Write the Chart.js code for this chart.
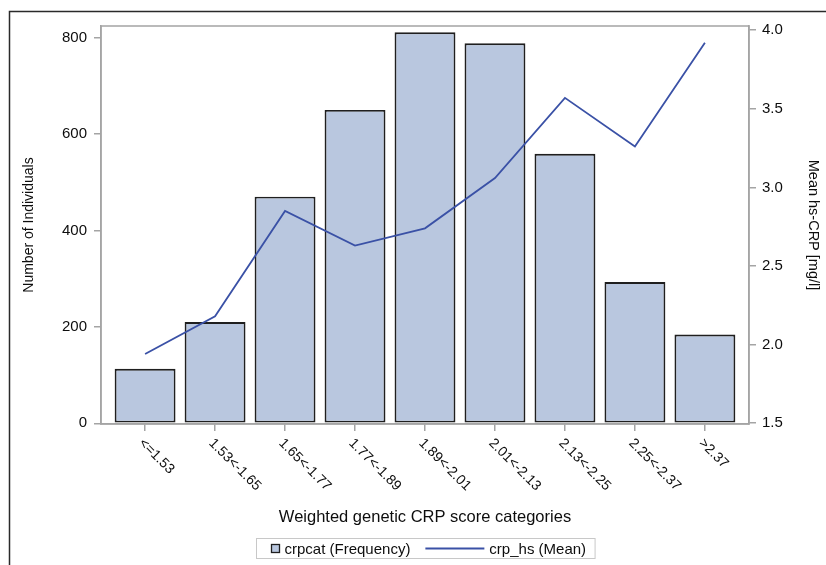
<!DOCTYPE html>
<html>
<head>
<meta charset="utf-8">
<title>Weighted genetic CRP score categories</title>
<script src="https://cdn.jsdelivr.net/npm/chart.js@4.4.0/dist/chart.umd.min.js"></script>
<style>
  html, body { margin: 0; padding: 0; background: #fff; }
  #wrap { width: 826px; height: 565px; }
</style>
</head>
<body>
<div id="wrap"><canvas id="crpChart" width="826" height="565"></canvas></div>
<script>
// data
const categories = ['<=1.53', '1.53<-1.65', '1.65<-1.77', '1.77<-1.89', '1.89<-2.01', '2.01<-2.13', '2.13<-2.25', '2.25<-2.37', '>2.37'];
const frequency = [113, 210, 470, 650, 811, 788, 559, 293, 184];
const meanCrp = [1.94, 2.18, 2.85, 2.63, 2.74, 3.06, 3.57, 3.26, 3.92];
const freqTicks = [0, 200, 400, 600, 800];
const crpTicks = [1.5, 2.0, 2.5, 3.0, 3.5, 4.0];

const FONT = "'Liberation Sans', Arial, sans-serif";
const frameGray = '#a4a4a4';
const textColor = '#0d0d0d';

// frames, rotated category labels and the boxed legend
const extras = {
  id: 'extras',
  beforeDraw(chart) {
    const ctx = chart.ctx;
    ctx.save();
    ctx.strokeStyle = '#2a2a2a';
    ctx.lineWidth = 1.5;
    ctx.beginPath();
    ctx.moveTo(9.5, 600);
    ctx.lineTo(9.5, 11.5);
    ctx.lineTo(826, 11.5);
    ctx.stroke();
    ctx.restore();
  },
  afterDraw(chart) {
    const ctx = chart.ctx;
    const area = chart.chartArea;
    const xScale = chart.scales.x;

    ctx.save();
    ctx.strokeStyle = frameGray;
    ctx.lineWidth = 1.5;
    ctx.strokeRect(area.left, area.top, area.right - area.left, area.bottom - area.top);

    // category labels, rotated 45 degrees clockwise
    ctx.fillStyle = textColor;
    ctx.font = '14px ' + FONT;
    ctx.textAlign = 'left';
    ctx.textBaseline = 'middle';
    categories.forEach((lab, i) => {
      const x = xScale.getPixelForValue(i);
      ctx.save();
      ctx.translate(x - 4, area.bottom + 17);
      ctx.rotate(Math.PI / 4);
      ctx.fillText(lab, 0, 0);
      ctx.restore();
    });

    // legend
    const ds = chart.data.datasets;
    ctx.font = '15px ' + FONT;
    const w1 = ctx.measureText(ds[0].label).width;
    const w2 = ctx.measureText(ds[1].label).width;
    const padL = 15, padR = 9, box = 8, gap = 5, itemGap = 15, lineLen = 59;
    const total = padL + box + gap + w1 + itemGap + lineLen + gap + w2 + padR;
    const cx = (area.left + area.right) / 2;
    let lx = Math.round(cx - total / 2) + 0.5;
    const ly = 538.5, lh = 20, mid = ly + lh / 2;

    ctx.strokeStyle = '#c8c8c8';
    ctx.lineWidth = 1;
    ctx.strokeRect(lx, ly, total, lh);

    let px = lx + padL;
    ctx.fillStyle = ds[0].backgroundColor;
    ctx.fillRect(px, mid - box / 2, box, box);
    ctx.strokeStyle = ds[0].borderColor;
    ctx.lineWidth = 1.3;
    ctx.strokeRect(px, mid - box / 2, box, box);
    px += box + gap;
    ctx.fillStyle = textColor;
    ctx.fillText(ds[0].label, px, mid + 1);
    px += w1 + itemGap;
    ctx.strokeStyle = ds[1].borderColor;
    ctx.lineWidth = ds[1].borderWidth;
    ctx.beginPath();
    ctx.moveTo(px, mid);
    ctx.lineTo(px + lineLen, mid);
    ctx.stroke();
    px += lineLen + gap;
    ctx.fillText(ds[1].label, px, mid + 1);
    ctx.restore();
  }
};

const ctx = document.getElementById('crpChart').getContext('2d');

new Chart(ctx, {
  type: 'bar',
  data: {
    datasets: [
      {
        type: 'bar',
        label: 'crpcat (Frequency)',
        data: frequency.map((v, i) => ({ x: i, y: v })),
        yAxisID: 'y',
        backgroundColor: '#b9c7df',
        borderColor: '#1f1f1f',
        borderWidth: 1.9,
        borderSkipped: false,
        categoryPercentage: 0.87,
        barPercentage: 1,
        order: 2
      },
      {
        type: 'line',
        label: 'crp_hs (Mean)',
        data: meanCrp.map((v, i) => ({ x: i, y: v })),
        yAxisID: 'y1',
        borderColor: '#3a51a6',
        borderWidth: 1.8,
        pointRadius: 0,
        tension: 0,
        order: 1
      }
    ]
  },
  options: {
    responsive: false,
    animation: false,
    events: [],
    layout: { padding: { top: 26, left: 0, right: 0, bottom: 0 } },
    plugins: {
      legend: { display: false },
      tooltip: { enabled: false }
    },
    scales: {
      x: {
        type: 'linear',
        min: -0.63,
        max: 8.63,
        offset: false,
        afterBuildTicks: s => { s.ticks = categories.map((c, i) => ({ value: i })); },
        afterFit: s => { s.height = 141; },
        ticks: { display: false },
        grid: { offset: false, drawOnChartArea: false, tickLength: 7, color: frameGray, lineWidth: 1.5 },
        border: { color: frameGray, width: 1.5 },
        title: {
          display: true,
          text: 'Weighted genetic CRP score categories',
          color: textColor,
          font: { family: FONT, size: 16.5 },
          padding: { top: 0, bottom: 38 }
        }
      },
      y: {
        position: 'left',
        min: -1.5,
        max: 824,
        afterBuildTicks: s => { s.ticks = freqTicks.map(v => ({ value: v })); },
        afterFit: s => { s.width = 101; },
        ticks: { color: textColor, font: { family: FONT, size: 15 }, padding: 7 },
        grid: { drawOnChartArea: false, tickLength: 7, color: frameGray, lineWidth: 1.5 },
        border: { color: frameGray, width: 1.5 },
        title: {
          display: true,
          text: 'Number of Individuals',
          color: textColor,
          font: { family: FONT, size: 14 },
          padding: { top: 21, bottom: 0 }
        }
      },
      y1: {
        position: 'right',
        min: 1.495,
        max: 4.027,
        afterBuildTicks: s => { s.ticks = crpTicks.map(v => ({ value: v })); },
        afterFit: s => { s.width = 77; },
        ticks: {
          color: textColor,
          font: { family: FONT, size: 15 },
          padding: 6,
          callback: v => v.toFixed(1)
        },
        grid: { drawOnChartArea: false, tickLength: 7, color: frameGray, lineWidth: 1.5 },
        border: { color: frameGray, width: 1.5 },
        title: {
          display: true,
          text: 'Mean hs-CRP [mg/l]',
          color: textColor,
          font: { family: FONT, size: 14.5 },
          padding: { top: 4, bottom: 0 }
        }
      }
    }
  },
  plugins: [extras]
});
</script>
</body>
</html>
